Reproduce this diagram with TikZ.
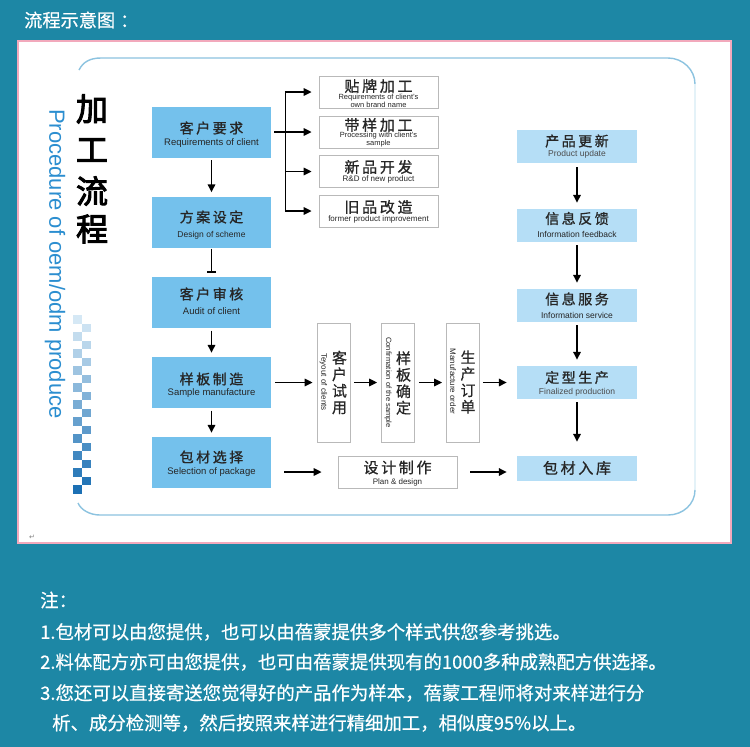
\documentclass[tikz,border=0pt]{standalone}
\usepackage{fontspec}
\setmainfont{Liberation Sans}
\newfontfamily\cjk{Noto Sans CJK SC}
\newfontfamily\cjkn[FakeBold=0.6]{Noto Sans CJK SC}
\newfontfamily\cjkls[LetterSpace=18,FakeBold=1]{Noto Sans CJK SC}
\newfontfamily\cjkheavy[FakeBold=3]{Noto Sans CJK SC}
\newfontfamily\symf{DejaVu Sans}
\usetikzlibrary{arrows.meta,calc}
\definecolor{teal1}{HTML}{1D87A5}
\definecolor{pinkb}{HTML}{F2A9BC}
\definecolor{lboxc}{HTML}{74C1EC}
\definecolor{rboxc}{HTML}{B5DEF6}
\definecolor{frameb}{HTML}{8CC3E0}
\definecolor{framel}{HTML}{E4F2F8}
\definecolor{vblue}{HTML}{2B8ED0}
\definecolor{chkl}{HTML}{D5E8F5}
\definecolor{chkd}{HTML}{1C70B4}
\newcommand\myfs[1]{\fontsize{#1}{#1}\selectfont}
\tikzset{
 lb/.style={rectangle, fill=lboxc, minimum width=119pt, minimum height=51pt, inner sep=0},
 wb/.style={rectangle, draw=gray!55, fill=white, line width=0.8pt, minimum width=119pt, minimum height=32pt, inner sep=0},
 vb/.style={rectangle, draw=gray!55, line width=0.8pt, minimum width=33pt, minimum height=119pt, inner sep=0},
 rb/.style={rectangle, fill=rboxc, minimum width=120pt, minimum height=33pt, inner sep=0},
 cjt/.style={font=\cjkls\myfs{14}, inner sep=0, text=black!85},
 vcj/.style={font=\cjkn\fontsize{15}{16.5}\selectfont, align=center, inner sep=0, text=black!85},
 ent/.style={inner sep=0, text=black!85},
 arr/.style={line width=1.6pt, -{Triangle[length=8pt,width=7.5pt]}},
 plain/.style={line width=1.6pt},
 note/.style={anchor=west, font=\cjkn\myfs{18.4}, text=white, inner sep=0},
}
\begin{document}
\begin{tikzpicture}[x=1pt,y=-1pt]
\fill[teal1] (0,0) rectangle (750,747);
\useasboundingbox (0,0) rectangle (750,747);
\node[anchor=west, font=\cjkn\myfs{18.2}, text=white, inner sep=0] (title) at (24,20) {流程示意图\hspace{5pt}：};
\draw[pinkb, line width=2pt, fill=white] (18,40.5) rectangle (730.5,542.5);
% frame
\draw[frameb, line width=1.4pt] (79,70) .. controls (83,62) and (90,58) .. (101,58) -- (668,58) .. controls (683,58) and (695,70) .. (695,84);
\draw[framel, line width=1.4pt] (695,84) -- (695,490);
\draw[frameb, line width=1.4pt] (695,490) .. controls (695,504) and (683,515) .. (668,515) -- (100,515) .. controls (90,515) and (81,510) .. (78,503);
\node[font=\symf\myfs{7}, text=gray, inner sep=0] (ret) at (32,537) {↵};
% left titles
\node[font=\cjkheavy\myfs{32}, inner sep=0] (t1) at (92,109) {加};
\node[font=\cjkheavy\myfs{32}, inner sep=0] (t2) at (92,150) {工};
\node[font=\cjkheavy\myfs{32}, inner sep=0] (t3) at (92,191) {流};
\node[font=\cjkheavy\myfs{32}, inner sep=0] (t4) at (92,229) {程};
\node[rotate=-90, font=\myfs{22}, text=vblue, inner sep=0] (proc) at (55,264) {Procedure of oem/odm produce};
% checker
\foreach \i in {0,...,10} {
  \pgfmathtruncatemacro\t{\i*10}
  \fill[chkd!\t!chkl] (73,315+17*\i) rectangle +(9,8.5);
}
\foreach \i in {0,...,9} {
  \pgfmathtruncatemacro\t{\i*10+5}
  \fill[chkd!\t!chkl] (82,323.5+17*\i) rectangle +(9,8.5);
}
% left column
\node[lb] (b1) at (211.5,132) {};
\node[lb] (b2) at (211.5,222) {};
\node[lb] (b3) at (211.5,302.5) {};
\node[lb] (b4) at (211.5,382.5) {};
\node[lb] (b5) at (211.5,462.5) {};
\node[cjt] (b1c) at (211.5,128) {客户要求};
\node[ent, font=\myfs{9.5}] (b1e) at (211.5,143) {Requirements of client};
\node[cjt] (b2c) at (211.5,217) {方案设定};
\node[ent, font=\myfs{8.5}] (b2e) at (211.5,235) {Design of scheme};
\node[cjt] (b3c) at (211.5,294) {客户审核};
\node[ent, font=\myfs{9.5}] (b3e) at (211.5,311.5) {Audit of client};
\node[cjt] (b4c) at (211.5,379) {样板制造};
\node[ent, font=\myfs{9.5}] (b4e) at (211.5,393) {Sample manufacture};
\node[cjt] (b5c) at (211.5,457) {包材选择};
\node[ent, font=\myfs{9.5}] (b5e) at (211.5,472) {Selection of package};
\draw[arr, shorten <=2.5pt, shorten >=4pt] (b1) -- (b2);
\draw[plain, -{Bar[width=9pt]}, shorten <=1pt, shorten >=4pt] (b2) -- (b3);
\draw[arr, shorten <=2.5pt, shorten >=4pt] (b3) -- (b4);
\draw[arr, shorten <=2.5pt, shorten >=4pt] (b4) -- (b5);
% top right white boxes
\node[wb] (w1) at (378.5,92) {};
\node[wb] (w2) at (378.5,132) {};
\node[wb] (w3) at (378.5,171.5) {};
\node[wb] (w4) at (378.5,211) {};
\node[cjt, font=\cjkls\myfs{15}] (w1c) at (378.5,86) {贴牌加工};
\node[ent, font=\fontsize{7.5}{6.5}\selectfont, align=center] (w1e) at (378.5,100.5) {Requirements of client’s\\own brand name};
\node[cjt, font=\cjkls\myfs{15}] (w2c) at (378.5,125) {带样加工};
\node[ent, font=\fontsize{7.5}{6.5}\selectfont, align=center] (w2e) at (378.5,139.5) {Processing with client’s\\sample};
\node[cjt, font=\cjkls\myfs{15}] (w3c) at (378.5,167) {新品开发};
\node[ent, font=\myfs{8}] (w3e) at (378.5,179) {R\&D of new product};
\node[cjt, font=\cjkls\myfs{15}] (w4c) at (378.5,207) {旧品改造};
\node[ent, font=\myfs{8}] (w4e) at (378.5,219) {former product improvement};
\coordinate (j1) at ($(w1.west)+(-33,0)$);
\coordinate (j4) at ($(w4.west)+(-33,0)$);
\coordinate (j3) at ($(w3.west)+(-33,0)$);
\draw[plain] (j1) -- (j4);
\draw[arr, shorten <=3pt, shorten >=7pt] (b1.east) -- (w2.west);
\draw[arr, shorten >=7pt] ([xshift=-0.8pt]j1) -- (w1.west);
\draw[arr, shorten >=7pt] (j3) -- (w3.west);
\draw[arr, shorten >=7pt] ([xshift=-0.8pt]j4) -- (w4.west);
% middle vertical boxes
\node[vb] (v1) at (333.5,382.5) {};
\node[vb] (v2) at (398,382.5) {};
\node[vb] (v3) at (463,382.5) {};
\node[vcj] (v1c) at (339.5,382.5) {客\\户\\试\\用};
\node[vcj] (v2c) at (403.5,383) {样\\板\\确\\定};
\node[vcj] (v3c) at (468,382) {生\\产\\订\\单};
\node[ent, rotate=-90, font=\myfs{8}] (v1e) at (323.5,382) {Teyout of clients};
\node[ent, rotate=-90, font=\myfs{7.6}] (v2e) at (388,382.5) {Confirmation of the sample};
\node[ent, rotate=-90, font=\myfs{8}] (v3e) at (453,381.5) {Manufacture order};
\node[wb] (d) at (397.5,472) {};
\node[cjt, font=\cjkls\myfs{15}] (dc) at (397.5,467.5) {设计制作};
\node[ent, font=\myfs{8}] (de) at (397.5,482) {Plan \& design};
% right column
\node[rb] (r1) at (577,146.5) {};
\node[rb] (r2) at (577,225.5) {};
\node[rb] (r3) at (577,305.5) {};
\node[rb] (r4) at (577,382.5) {};
\node[rb, minimum height=25pt] (r5) at (577,468.5) {};
\node[cjt] (r1c) at (577,141) {产品更新};
\node[ent, font=\myfs{8.5}, text=black!70] (r1e) at (577,154.5) {Product update};
\node[cjt] (r2c) at (577,218.5) {信息反馈};
\node[ent, font=\myfs{8.5}] (r2e) at (577,234) {Information feedback};
\node[cjt] (r3c) at (577,299) {信息服务};
\node[ent, font=\myfs{8.5}] (r3e) at (577,315) {Information service};
\node[cjt] (r4c) at (577,377.5) {定型生产};
\node[ent, font=\myfs{8.5}, text=black!70] (r4e) at (577,392.5) {Finalized production};
\node[cjt, font=\cjkls\myfs{15}] (r5c) at (577,468) {包材入库};
\draw[arr, shorten <=4pt, shorten >=6pt] (r1) -- (r2);
\draw[arr, shorten <=3pt, shorten >=6pt] (r2) -- (r3);
\draw[arr, shorten <=3pt, shorten >=6pt] (r3) -- (r4);
\draw[arr, shorten <=3pt, shorten >=14pt] (r4) -- (r5);
% horizontal flow
\draw[arr, shorten <=4pt, shorten >=4pt] (b4.east) -- (v1.west);
\draw[arr, shorten <=4pt, shorten >=4pt] (v1.east) -- (v2.west);
\draw[arr, shorten <=4pt, shorten >=4pt] (v2.east) -- (v3.west);
\draw[arr, shorten <=3pt, shorten >=10pt] (v3.east) -- (r4.west |- v3.east);
\draw[arr, shorten <=13pt, shorten >=16pt] (b5.east |- d.west) -- (d.west);
\draw[arr, shorten <=13pt, shorten >=10pt] (d.east) -- (r5.west |- d.east);
% notes
\node[note] (n0) at (40,600) {注：};
\node[note] (n1) at (40,632) {1.包材可以由您提供，也可以由蓓蒙提供多个样式供您参考挑选。};
\node[note] (n2) at (40,662) {2.料体配方亦可由您提供，也可由蓓蒙提供现有的1000多种成熟配方供选择。};
\node[note] (n3) at (40,693) {3.您还可以直接寄送您觉得好的产品作为样本，蓓蒙工程师将对来样进行分};
\node[note] (n4) at (52,723) {析、成分检测等，然后按照来样进行精细加工，相似度95\%以上。};
\end{tikzpicture}
\end{document}
